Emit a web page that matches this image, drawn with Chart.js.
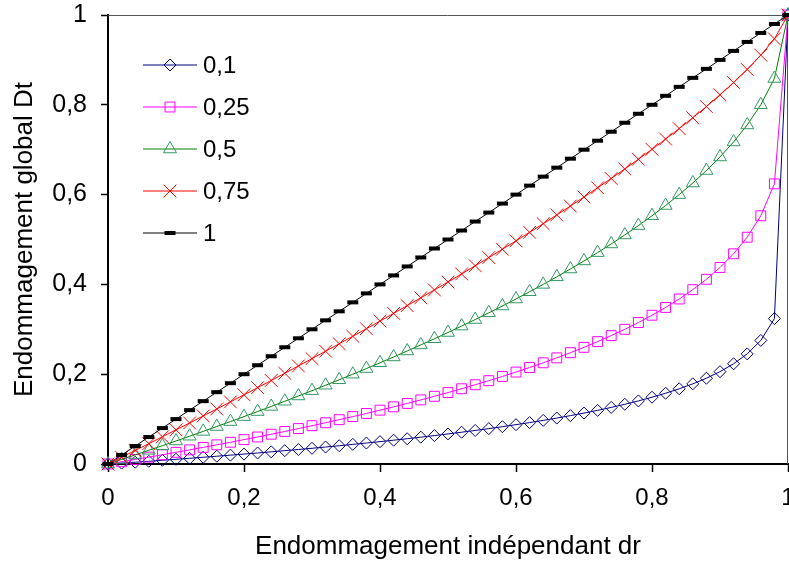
<!DOCTYPE html>
<html>
<head>
<meta charset="utf-8">
<script src="https://cdn.jsdelivr.net/npm/chart.js@4"></script>
<style>
  body { margin: 0; background: #fff; }
</style>
</head>
<body>
<canvas id="chart" width="789" height="565"></canvas>
<script>
// independent damage dr (x), step 0.02
const dr = [0, 0.02, 0.04, 0.06, 0.08, 0.1, 0.12, 0.14, 0.16, 0.18, 0.2, 0.22, 0.24, 0.26, 0.28, 0.3, 0.32, 0.34, 0.36, 0.38,
  0.4, 0.42, 0.44, 0.46, 0.48, 0.5, 0.52, 0.54, 0.56, 0.58, 0.6, 0.62, 0.64, 0.66, 0.68, 0.7, 0.72, 0.74, 0.76, 0.78,
  0.8, 0.82, 0.84, 0.86, 0.88, 0.9, 0.92, 0.94, 0.96, 0.98, 1];

// global damage Dt, one list per series
const dt010 = [0, 0.002, 0.004, 0.006, 0.0083, 0.0105, 0.0127, 0.015, 0.0173, 0.0197, 0.0221, 0.0245, 0.0271, 0.0297, 0.0323, 0.035, 0.0378, 0.0407, 0.0437, 0.0467,
  0.0498, 0.053, 0.0563, 0.0598, 0.0633, 0.067, 0.0708, 0.0747, 0.0788, 0.0831, 0.0876, 0.0922, 0.0971, 0.1023, 0.1077, 0.1134, 0.1195, 0.126, 0.133, 0.1405,
  0.1487, 0.1576, 0.1675, 0.1785, 0.191, 0.2057, 0.2232, 0.2452, 0.2752, 0.3238, 1];
const dt025 = [0, 0.005, 0.0102, 0.0153, 0.0206, 0.026, 0.0315, 0.037, 0.0427, 0.0484, 0.0543, 0.0602, 0.0663, 0.0725, 0.0789, 0.0853, 0.0919, 0.0987, 0.1056, 0.1126,
  0.1199, 0.1273, 0.1349, 0.1428, 0.1508, 0.1591, 0.1676, 0.1765, 0.1856, 0.195, 0.2047, 0.2149, 0.2254, 0.2364, 0.2479, 0.2599, 0.2726, 0.2859, 0.3, 0.3151,
  0.3313, 0.3487, 0.3675, 0.3883, 0.4114, 0.4377, 0.4682, 0.5051, 0.5528, 0.6239, 1];
const dt050 = [0, 0.0101, 0.0202, 0.0305, 0.0408, 0.0513, 0.0619, 0.0726, 0.0835, 0.0945, 0.1056, 0.1168, 0.1282, 0.1398, 0.1515, 0.1633, 0.1754, 0.1876, 0.2, 0.2126,
  0.2254, 0.2384, 0.2517, 0.2652, 0.2789, 0.2929, 0.3072, 0.3218, 0.3367, 0.3519, 0.3675, 0.3836, 0.4, 0.4169, 0.4343, 0.4523, 0.4708, 0.4901, 0.5101, 0.531,
  0.5528, 0.5757, 0.6, 0.6258, 0.6536, 0.6838, 0.7172, 0.7551, 0.8, 0.8586, 1];
const dt075 = [0, 0.015, 0.0302, 0.0453, 0.0606, 0.076, 0.0914, 0.107, 0.1226, 0.1383, 0.1541, 0.17, 0.186, 0.2021, 0.2184, 0.2347, 0.2512, 0.2678, 0.2845, 0.3013,
  0.3183, 0.3354, 0.3527, 0.3701, 0.3876, 0.4054, 0.4233, 0.4415, 0.4598, 0.4783, 0.497, 0.516, 0.5352, 0.5547, 0.5745, 0.5946, 0.6151, 0.6359, 0.6571, 0.6788,
  0.7009, 0.7237, 0.747, 0.7711, 0.7961, 0.8222, 0.8496, 0.8788, 0.9106, 0.9468, 1];
const dt100 = [0, 0.02, 0.04, 0.06, 0.08, 0.1, 0.12, 0.14, 0.16, 0.18, 0.2, 0.22, 0.24, 0.26, 0.28, 0.3, 0.32, 0.34, 0.36, 0.38,
  0.4, 0.42, 0.44, 0.46, 0.48, 0.5, 0.52, 0.54, 0.56, 0.58, 0.6, 0.62, 0.64, 0.66, 0.68, 0.7, 0.72, 0.74, 0.76, 0.78,
  0.8, 0.82, 0.84, 0.86, 0.88, 0.9, 0.92, 0.94, 0.96, 0.98, 1];

const seriesNames = ["0,1", "0,25", "0,5", "0,75", "1"];
const tickValues = [0, 0.2, 0.4, 0.6, 0.8, 1];
const tickLabels = ["0", "0,2", "0,4", "0,6", "0,8", "1"];

const FONT = "'Liberation Sans', Arial, sans-serif";

const xy = (ys) => ys.map((y, i) => ({ x: dr[i], y: y }));

// marker look per series (Excel-like)
const looks = [
  { line: "#000080", mark: "#000080", style: "rectRot", r: 6, bw: 1 },
  { line: "#ff00ff", mark: "#ff00ff", style: "rect", r: 7, bw: 1 },
  { line: "#008000", mark: "#339966", style: "triangle", r: 7.5, bw: 1 },
  { line: "#ff0000", mark: "#ff0000", style: "crossRot", r: 9, bw: 1 },
  { line: "#000000", mark: "#000000", style: "line", r: 5.5, bw: 4 }
];

const datasets = [dt010, dt025, dt050, dt075, dt100].map((ys, i) => ({
  label: seriesNames[i],
  data: xy(ys),
  borderColor: looks[i].line,
  borderWidth: 1,
  pointStyle: looks[i].style,
  pointRadius: looks[i].r,
  pointBorderWidth: looks[i].bw,
  pointBorderColor: looks[i].mark,
  pointBackgroundColor: "rgba(0,0,0,0)",
  fill: false,
  tension: 0,
  clip: false,
  order: 5 - i
}));

// legend drawn inside the plot, top-left
const insideLegend = {
  id: "insideLegend",
  afterDatasetsDraw(chart) {
    const { ctx, chartArea } = chart;
    chart.data.datasets.forEach((ds, i) => {
      const y = chartArea.top + 50 + i * 42;
      const x0 = chartArea.left + 35;
      ctx.save();
      ctx.strokeStyle = ds.borderColor;
      ctx.lineWidth = 1;
      ctx.beginPath();
      ctx.moveTo(x0, y);
      ctx.lineTo(x0 + 54, y);
      ctx.stroke();
      ctx.strokeStyle = ds.pointBorderColor;
      ctx.fillStyle = ds.pointBackgroundColor;
      ctx.lineWidth = ds.pointBorderWidth;
      Chart.helpers.drawPoint(ctx, { pointStyle: ds.pointStyle, radius: ds.pointRadius, borderWidth: ds.pointBorderWidth, rotation: 0 }, x0 + 27, y);
      ctx.fillStyle = "#000";
      ctx.font = "24px " + FONT;
      ctx.textBaseline = "middle";
      ctx.textAlign = "left";
      ctx.fillText(ds.label, x0 + 60, y + 1);
      ctx.restore();
    });
  }
};

// thin frame on the top and right of the plot area
const plotFrame = {
  id: "plotFrame",
  beforeDatasetsDraw(chart) {
    const { ctx, chartArea: a } = chart;
    ctx.save();
    ctx.strokeStyle = "#555";
    ctx.lineWidth = 1;
    ctx.beginPath();
    ctx.moveTo(a.left, a.top + 0.5);
    ctx.lineTo(a.right - 0.5, a.top + 0.5);
    ctx.lineTo(a.right - 0.5, a.bottom);
    ctx.stroke();
    ctx.restore();
  }
};

const fixTicks = (scale) => { scale.ticks = tickValues.map(v => ({ value: v })); };

new Chart(document.getElementById("chart"), {
  type: "line",
  data: { datasets: datasets },
  options: {
    responsive: false,
    animation: false,
    devicePixelRatio: 1,
    layout: { autoPadding: false, padding: { left: 0, top: 15, right: 1, bottom: 0 } },
    plugins: { legend: { display: false }, tooltip: { enabled: false } },
    scales: {
      x: {
        type: "linear",
        min: 0,
        max: 1,
        afterBuildTicks: fixTicks,
        afterFit: (s) => { s.height = 101; s.paddingLeft = 0; s.paddingRight = 0; },
        ticks: {
          callback: (v, i) => tickLabels[i],
          font: { family: FONT, size: 24 },
          color: "#000",
          padding: 12,
          maxRotation: 0,
          autoSkip: false
        },
        grid: { drawOnChartArea: false, tickLength: 8, color: "#000", tickWidth: 1.5 },
        border: { color: "#000", width: 2 },
        title: {
          display: true,
          text: "Endommagement indépendant dr",
          font: { family: FONT, size: 26 },
          color: "#000",
          padding: { top: 0, bottom: 3 }
        }
      },
      y: {
        type: "linear",
        min: 0,
        max: 1,
        afterBuildTicks: fixTicks,
        afterFit: (s) => { s.width = 108; s.paddingTop = 0; s.paddingBottom = 0; },
        ticks: {
          callback: (v, i) => tickLabels[i],
          font: { family: FONT, size: 25 },
          color: "#000",
          padding: 14,
          autoSkip: false
        },
        grid: { drawOnChartArea: false, tickLength: 7, color: "#000", tickWidth: 1.5 },
        border: { color: "#000", width: 2 },
        title: {
          display: true,
          text: "Endommagement global Dt",
          font: { family: FONT, size: 26 },
          color: "#000",
          padding: { top: 9, bottom: 0 }
        }
      }
    }
  },
  plugins: [plotFrame, insideLegend]
});
</script>
</body>
</html>
